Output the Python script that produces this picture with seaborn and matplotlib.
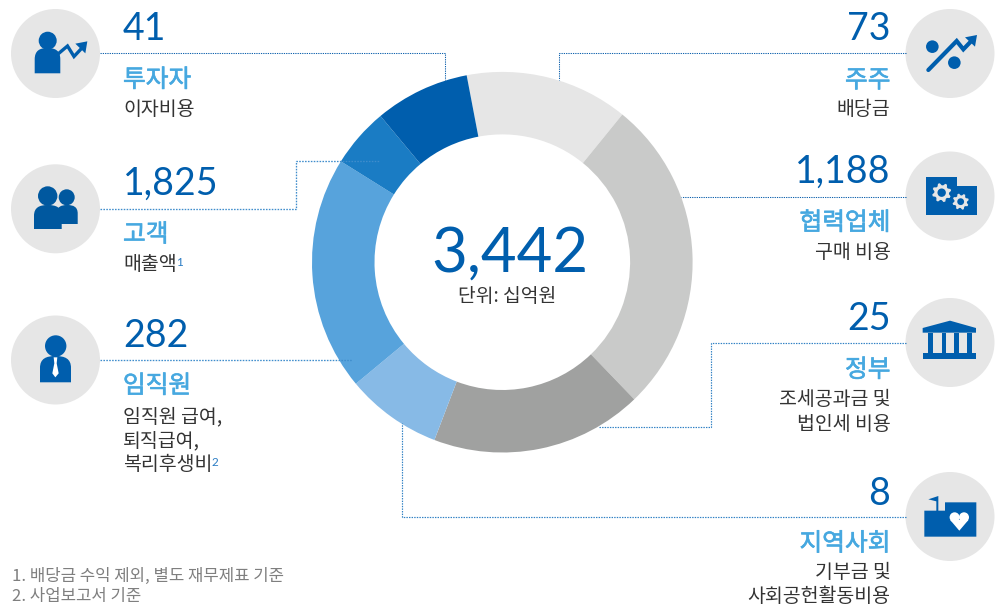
import numpy as np
import matplotlib
matplotlib.use("Agg")
import matplotlib.pyplot as plt
import matplotlib.patheffects as pe
import seaborn as sns
from matplotlib.patches import Circle, Polygon, PathPatch, Rectangle
from matplotlib.path import Path

# ---------- data ----------
groups = ["투자자", "고객", "임직원", "주주", "협력업체", "정부", "지역사회"]
amounts = ["41", "1,825", "282", "73", "1,188", "25", "8"]
details = ["이자비용", "매출액", "임직원 급여,\n퇴직급여,\n복리후생비", "배당금", "구매 비용",
           "조세공과금 및\n법인세 비용", "기부금 및\n사회공헌활동비용"]
total_label = "3,442"
unit_label = "단위: 십억원"
footnotes = ["1. 배당금 수익 제외, 별도 재무제표 기준", "2. 사업보고서 기준"]
# ring segments clockwise from the light grey one (degrees)
segment_names = ["주주", "협력업체", "정부", "지역사회", "임직원", "고객", "투자자"]
segment_sizes = [49.9, 97.0, 64.8, 29.4, 71.7, 18.2, 29.0]
segment_colors = ["#e6e6e6", "#c9cac9", "#a0a1a0", "#87bae6", "#57a3dc", "#1a7cc4", "#005ead"]

# ---------- style ----------
sns.set_theme(style="white")
plt.rcParams["font.family"] = ["Noto Sans CJK KR", "DejaVu Sans"]
BLUE, SKY, INK, GREY, DISC = "#005ead", "#46a8e0", "#333333", "#7f7f7f", "#e6e6e6"

fig = plt.figure(figsize=(10, 6.05), dpi=100, facecolor="white")
ax = fig.add_axes([0, 0, 1, 1])

cx, cy, R, r = 502.3, 262.2, 190.3, 127.8
ax.pie(segment_sizes, colors=sns.color_palette(segment_colors), center=(cx, cy), radius=R,
       startangle=259.2, counterclock=True, wedgeprops=dict(width=R - r, linewidth=0))
ax.set_xlim(0, 1000)
ax.set_ylim(605, 0)
ax.set_aspect("equal")
ax.axis("off")

# ---------- leader lines ----------
def leader(xs, ys, color="#0f62ad", lw=0.75):
    ax.plot(xs, ys, color=color, lw=lw, ls=(0, (1.2, 1.0)), zorder=4, solid_capstyle="butt")

leader([100, 445, 445], [53, 53, 80])
leader([100, 295.5, 295.5, 380], [209, 209, 160.5, 160.5], "#3f8dcc", 0.95)
leader([100, 352], [360, 360], "#3f8dcc", 0.95)
leader([906, 559.3, 559.3], [53, 53, 80])
leader([906, 681], [196.5, 196.5])
leader([906, 710.7, 710.7, 598], [342.5, 342.5, 427.3, 427.3], "#2f80c4", 0.85)
leader([906, 402, 402], [516.5, 516.5, 423], "#2f80c4", 0.85)

# ---------- text ----------
left_y = [(40, 87, [115]), (195, 241.7, [270]), (347, 393, [422.5, 446.5, 470])]
right_y = [(40, 87.5, [115]), (182.7, 230, [258]), (330, 377, [405, 430]), (505, 550.7, [578, 601.5])]
NUM, HEAD, SUB = 27, 17.8, 14
NUMFONT = ["Lato", "DejaVu Sans"]
halo = lambda c, w: [pe.withStroke(linewidth=w, foreground=c)]

def block(i, x, ha, ys):
    ax.text(x, ys[0], amounts[i], color=BLUE, fontsize=NUM, ha=ha, va="baseline", zorder=5, family=NUMFONT)
    ax.text(x, ys[1], groups[i], color=SKY, fontsize=HEAD, ha=ha, va="baseline", zorder=5,
            path_effects=halo(SKY, 0.45))
    for line, y in zip(details[i].split("\n"), ys[2]):
        ax.text(x, y, line, color=INK, fontsize=SUB, ha=ha, va="baseline", zorder=5)

for i, ys in enumerate(left_y):
    block(i, 123, "left", ys)
for i, ys in enumerate(right_y):
    block(i + 3, 890.5, "right", ys)

ax.text(176, 265.7, "1", color="#2a7cc4", fontsize=8.5, va="baseline", family=NUMFONT)
ax.text(212, 466, "2", color="#2a7cc4", fontsize=8.5, va="baseline", family=NUMFONT)
ax.text(510, 271.7, total_label, color=BLUE, fontsize=44.5, ha="center", va="baseline", zorder=5, family=NUMFONT)
ax.text(507, 302.5, unit_label, color=INK, fontsize=13.85, ha="center", va="baseline", zorder=5)
ax.text(12, 581, footnotes[0], color=GREY, fontsize=12.05, va="baseline")
ax.text(12, 601.5, footnotes[1], color=GREY, fontsize=12.05, va="baseline")

# ---------- icons (decoration, in pixel space) ----------
for x, y in [(55.5, 53.5), (55.5, 208.8), (55.5, 360), (950, 53.5), (950, 196), (950, 342.5), (950, 516.5)]:
    ax.add_patch(Circle((x, y), 44.5, fc=DISC, ec="none", zorder=2))

def add(p):
    p.set_zorder(3)
    ax.add_patch(p)

def poly(pts, color=BLUE):
    add(Polygon(pts, closed=True, fc=color, ec="none"))

def disc(x, y, rad, color=BLUE):
    add(Circle((x, y), rad, fc=color, ec="none"))

def torso(x0, x1, y0, y1, color=BLUE):
    xc, h, w = (x0 + x1) / 2, (y1 - y0), (x1 - x0)
    verts = [(x0, y1), (x0, y0 + .45 * h), (x0, y0 + .1 * h), (xc - .3 * w, y0), (xc, y0),
             (xc + .3 * w, y0), (x1, y0 + .1 * h), (x1, y0 + .45 * h), (x1, y1), (x0, y1)]
    codes = [Path.MOVETO, Path.LINETO, Path.CURVE4, Path.CURVE4, Path.CURVE4,
             Path.CURVE4, Path.CURVE4, Path.CURVE4, Path.LINETO, Path.CLOSEPOLY]
    add(PathPatch(Path(verts, codes), fc=color, ec="none"))

def zoomed(pts, ox, oy):
    return [(ox + a / 3, oy + b / 3) for a, b in pts]

def gear(x, y, outer, inner, hole):
    n = 8
    ang = np.linspace(0, 2 * np.pi, n * 4, endpoint=False) + np.pi / 8
    rad = np.tile([outer, outer, inner, inner], n)
    poly(list(zip(x + rad * np.cos(ang), y + rad * np.sin(ang))), DISC)
    disc(x, y, hole)

# investor
disc(47.7, 40.7, 9)
torso(34.7, 60.3, 48, 73.3)
ax.plot([58, 67.5, 74, 81], [54, 46, 56.5, 49], color=BLUE, lw=2.4, zorder=3, solid_joinstyle="miter")
poly(zoomed([(226, 131), (262, 124), (256, 160)], 0, 0))
# customers
disc(66.7, 197.3, 8, "#00589f")
torso(56.7, 77.7, 205, 224, "#00589f")
disc(47.7, 196, 9.7, "#00589f")
torso(34, 61.7, 205, 229, "#00589f")
# employee
disc(55.7, 346, 10.7)
torso(40, 71, 356, 382.3)
poly(zoomed([(161, 622), (172, 622), (170, 640), (176, 670), (166, 682), (157, 670), (163, 640)], 0, 150), "#ffffff")
# shareholder
disc(905 + 82 / 3, 10 + 110 / 3, 6.3)
disc(905 + 148 / 3, 10 + 158 / 3, 6.3)
ax.plot(*zip(*zoomed([(70, 180), (155, 93), (175, 118), (200, 92)], 905, 10)), color=BLUE, lw=3, zorder=3,
        solid_joinstyle="miter")
poly(zoomed([(180, 82), (216, 75), (210, 110)], 905, 10))
# supplier
poly(zoomed([(63, 502), (155, 502), (155, 528), (216, 528), (216, 614), (63, 614)], 905, 10))
gear(905 + 110 / 3, 10 + 548 / 3, 9.6, 7.4, 4.2)
gear(905 + 167 / 3, 10 + 575 / 3, 8.2, 6.3, 3.4)
# government
poly(zoomed([(53, 84), (135, 62), (213, 84), (213, 98), (53, 98)], 905, 300))
poly(zoomed([(53, 158), (213, 158), (213, 177), (53, 177)], 905, 300))
for a in (70, 110, 148, 187):
    add(Rectangle((905 + a / 3, 300 + 98 / 3), 4.2, 20, fc=BLUE, ec="none"))
# community
poly(zoomed([(58, 632), (94, 632), (94, 604), (70, 598), (100, 588), (100, 632), (120, 632), (120, 607),
             (214, 607), (214, 710), (58, 710)], 905, 300))
disc(954.6, 517.3, 5, "#ffffff")
disc(964, 517.3, 5, "#ffffff")
poly([(950.2, 520), (968.4, 520), (959.3, 530.7)], "#ffffff")

fig.savefig("out.png", dpi=100)
